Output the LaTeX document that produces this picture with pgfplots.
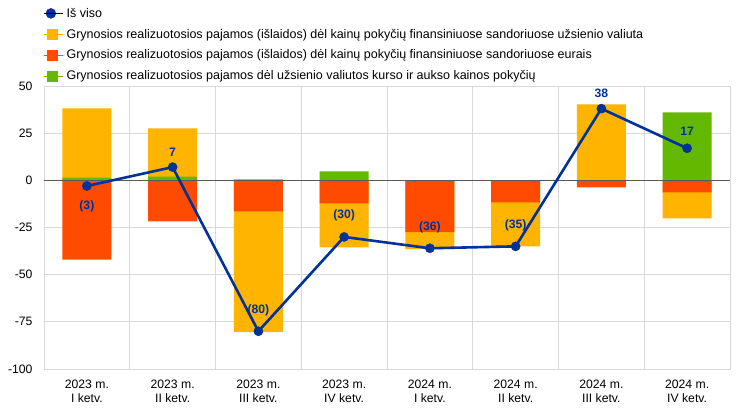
\documentclass[border=0pt]{standalone}
\usepackage{fontspec}
\setmainfont{Liberation Sans}
\usepackage{pgfplots}
\usepackage{pgfplotstable}
\pgfplotsset{compat=1.18}

\definecolor{ecbblue}{HTML}{003299}
\definecolor{ecbyellow}{HTML}{FFB400}
\definecolor{ecbred}{HTML}{FF4B00}
\definecolor{ecbgreen}{HTML}{65B800}
\definecolor{gridgray}{HTML}{D9D9D9}
\definecolor{zerogray}{HTML}{595959}

% stulpeliu ribos nuo nulio: teigiama ir neigiama puse atskirai
% ytop = geltona+zalia virs nulio, ybot = raudona+geltona zemiau nulio
\pgfplotstableread{
x ytop green ybot red
0 38.2 1.5   0    -42.0
1 27.6 2.0   0    -21.7
2 0    0.5 -80.4  -16.4
3 0    4.8 -35.5  -12.2
4 0    0   -36.5  -27.5
5 0    0   -35.0  -11.7
6 40.3 0     0     -3.7
7 0    36.0 -20.1  -6.4
}\bars

\pgfplotstableread{
x y lab dy
0 -3 (3) -20
1 7 7 15
2 -80 (80) 21
3 -30 (30) 22
4 -36 (36) 21
5 -35 (35) 21
6 38 38 15
7 17 17 17
}\totaltab

\newcommand\chfont{\fontsize{12.2bp}{14bp}\selectfont}
\newcommand\legfont{\fontsize{12.5bp}{14bp}\selectfont}

\begin{document}
\begin{tikzpicture}
\path[use as bounding box] (-44bp,-39bp) rectangle (699bp,369bp);
\begin{axis}[
  at={(0,0)}, anchor=south west,
  scale only axis, width=686bp, height=283bp,
  ybar, bar width=49bp, bar shift=0pt,
  xmin=-0.5, xmax=7.5, ymin=-100, ymax=50,
  ytick={-100,-75,...,50},
  xtick={0,...,7},
  xticklabels={{2023 m.\\I ketv.},{2023 m.\\II ketv.},{2023 m.\\III ketv.},{2023 m.\\IV ketv.},
               {2024 m.\\I ketv.},{2024 m.\\II ketv.},{2024 m.\\III ketv.},{2024 m.\\IV ketv.}},
  minor xtick={-0.5,0.5,...,7.5},
  xminorgrids=true, ymajorgrids=true,
  grid style={draw=gridgray, line width=0.8pt},
  axis line style={draw=gridgray, line width=0.8pt},
  major tick length=0pt, minor tick length=0pt,
  font=\chfont,
  /pgf/number format/assume math mode=true,
  xticklabel style={align=center, yshift=-7bp},
  yticklabel style={xshift=-8bp},
  legend style={at={(0.0,1.283)}, anchor=north west, draw=none, fill=none,
    inner sep=0pt, legend cell align=left, row sep=6.3bp, font=\legfont,
    nodes={inner xsep=3bp}},
  legend image code/.code={\fill[#1] (3bp,-4.7bp) rectangle (12.5bp,4.7bp); \path (0bp,0bp) -- (19bp,0bp);},
  clip=false,
]
\addlegendimage{legend image code/.code={\fill[ecbblue] (6.5bp,0bp) circle (5bp); \path (0bp,0bp) -- (19bp,0bp);}}
\addlegendentry{Iš viso}
\addlegendimage{ecbyellow}
\addlegendentry{Grynosios realizuotosios pajamos (išlaidos) dėl kainų pokyčių finansiniuose sandoriuose užsienio valiuta}
\addlegendimage{ecbred}
\addlegendentry{Grynosios realizuotosios pajamos (išlaidos) dėl kainų pokyčių finansiniuose sandoriuose eurais}
\addlegendimage{ecbgreen}
\addlegendentry{Grynosios realizuotosios pajamos dėl užsienio valiutos kurso ir aukso kainos pokyčių}

\addplot[fill=ecbyellow, draw=none, forget plot] table[x=x, y=ytop] {\bars};
\addplot[fill=ecbgreen, draw=none, forget plot] table[x=x, y=green] {\bars};
\addplot[fill=ecbyellow, draw=none, forget plot] table[x=x, y=ybot] {\bars};
\addplot[fill=ecbred, draw=none, forget plot] table[x=x, y=red] {\bars};

\draw[zerogray, line width=0.9pt] (axis cs:-0.5,0) -- (axis cs:7.5,0);

\addplot[sharp plot, ecbblue, line width=2.6bp, fill=none, mark=*, mark size=4.6bp,
  mark options={fill=ecbblue, draw=ecbblue, line width=0.4pt},
  point meta=explicit symbolic,
  visualization depends on={\thisrow{dy} \as \dy},
  nodes near coords,
  every node near coord/.append style={anchor=center, yshift=\dy bp,
    font=\chfont\bfseries, text=ecbblue},
  forget plot]
  table[x=x, y=y, meta=lab] {\totaltab};
\end{axis}
\end{tikzpicture}
\end{document}
